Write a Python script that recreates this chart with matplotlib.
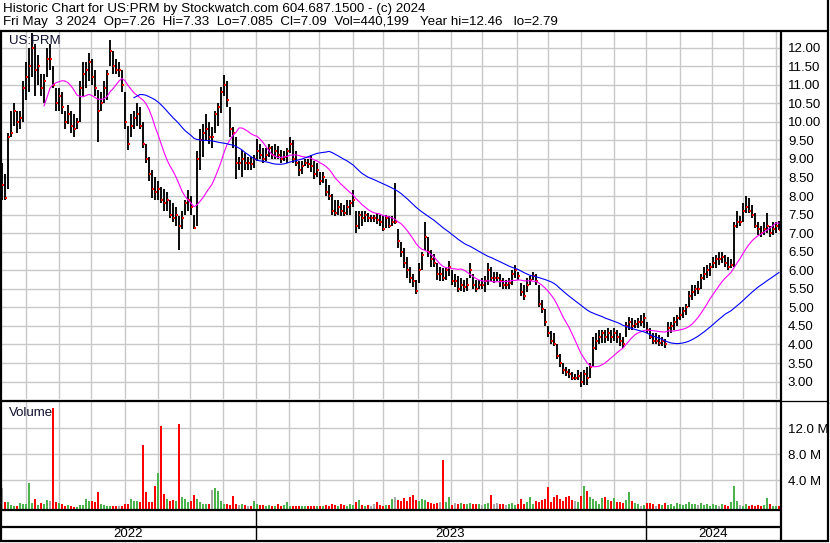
import matplotlib
matplotlib.use("Agg")
import matplotlib.pyplot as plt
import numpy as np
import pandas as pd

plt.rcParams['font.family'] = ['Liberation Sans', 'DejaVu Sans']

# chart covers these trading days, one bar is drawn for every second weekday
first_day = "2022-05-10"
last_day = "2024-05-03"

header = "Historic Chart for US:PRM by Stockwatch.com 604.687.1500 - (c) 2024"
quote = "Fri May  3 2024  Op=7.26  Hi=7.33  Lo=7.085  Cl=7.09  Vol=440,199   Year hi=12.46   lo=2.79"
symbol = "US:PRM"

close = [
    8.3, 7.95, 9.6, 9.7, 10.3, 10.0, 10.1, 10.9, 11.2, 11.5,
    12.0, 11.4, 11.5, 10.9, 11.1, 11.7, 11.7, 11.0, 10.5, 10.7,
    10.4, 10.0, 10.2, 9.9, 9.8, 10.0, 10.9, 11.3, 11.4, 11.6,
    11.2, 10.9, 10.3, 10.5, 10.9, 11.3, 11.9, 11.5, 11.4, 11.4,
    11.0, 10.0, 9.4, 9.9, 10.1, 10.2, 9.9, 9.4, 9.0, 8.6,
    8.2, 8.1, 8.2, 7.9, 7.8, 7.9, 7.5, 7.4, 7.5, 7.2,
    7.4, 7.8, 7.9, 7.7, 7.15, 9.0, 9.5, 9.7, 9.8, 9.6,
    9.6, 10.2, 10.4, 10.8, 11.0, 10.6, 9.8, 9.7, 8.9, 8.9,
    9.0, 8.9, 8.9, 8.85, 9.0, 9.2, 9.1, 9.0, 9.1, 9.3,
    9.1, 9.2, 9.1, 9.0, 9.05, 9.2, 9.4, 9.0, 8.9, 8.7,
    8.8, 8.9, 8.85, 8.8, 8.6, 8.7, 8.4, 8.5, 8.1, 8.0,
    7.6, 7.55, 7.7, 7.6, 7.55, 7.7, 7.8, 7.9, 7.2, 7.5,
    7.4, 7.5, 7.4, 7.4, 7.4, 7.35, 7.3, 7.1, 7.4, 7.2,
    7.3, 7.3, 6.8, 6.5, 6.2, 6.0, 5.8, 5.7, 5.45, 6.0,
    6.4, 6.9, 6.5, 6.3, 6.2, 5.9, 5.9, 5.8, 6.0, 6.1,
    5.7, 5.7, 5.5, 5.6, 5.55, 5.6, 6.0, 5.6, 5.5, 5.6,
    5.6, 5.7, 6.0, 5.8, 5.8, 5.8, 5.7, 5.6, 5.6, 5.65,
    5.9, 6.0, 5.85, 5.4, 5.3, 5.6, 5.75, 5.85, 5.7, 5.1,
    4.95, 4.6, 4.3, 4.1, 4.0, 3.7, 3.5, 3.3, 3.25, 3.2,
    3.1, 3.1, 3.15, 3.0, 3.2, 3.1, 3.4, 3.9, 4.1, 4.2,
    4.3, 4.2, 4.3, 4.2, 4.3, 4.2, 4.1, 4.0, 4.5, 4.6,
    4.5, 4.55, 4.6, 4.6, 4.7, 4.4, 4.2, 4.1, 4.1, 4.05,
    4.1, 4.0, 4.45, 4.5, 4.6, 4.7, 4.8, 4.9, 5.0, 5.3,
    5.4, 5.5, 5.5, 5.8, 5.9, 6.0, 6.1, 6.2, 6.3, 6.3,
    6.35, 6.2, 6.1, 6.15, 7.2, 7.3, 7.3, 7.6, 7.7, 7.6,
    7.5, 7.2, 7.1, 7.0, 7.1, 7.2, 7.0, 7.1, 7.2, 7.09,
]

high = [
    8.9, 8.6, 9.7, 10.3, 10.5, 10.3, 10.3, 11.1, 11.6, 12.0,
    12.4, 12.1, 11.8, 11.3, 11.3, 12.0, 12.1, 11.5, 10.9, 10.9,
    10.8, 10.3, 10.45, 10.3, 10.2, 10.1, 11.1, 11.6, 11.6, 11.85,
    11.7, 11.4, 10.85, 10.8, 11.1, 11.4, 12.2, 11.9, 11.7, 11.6,
    11.4, 10.8, 9.9, 10.2, 10.3, 10.5, 10.4, 10.0, 9.4, 9.05,
    8.7, 8.5, 8.4, 8.25, 8.2, 8.1, 7.9, 7.8, 7.7, 7.45,
    7.6, 7.9, 8.15, 8.0, 7.5, 9.2, 9.8, 9.95, 10.2, 10.0,
    9.85, 10.3, 10.5, 10.95, 11.25, 11.1, 10.4, 9.85, 9.6, 9.05,
    9.25, 9.15, 9.05, 9.05, 9.1, 9.55, 9.4, 9.3, 9.3, 9.4,
    9.35, 9.4, 9.35, 9.25, 9.2, 9.3, 9.6, 9.5, 9.2, 8.95,
    8.95, 9.0, 9.0, 9.1, 8.95, 8.9, 8.65, 8.65, 8.45, 8.3,
    8.05, 7.9, 7.9, 7.8, 7.75, 7.9, 7.9, 8.15, 7.6, 7.6,
    7.6, 7.6, 7.55, 7.5, 7.5, 7.55, 7.5, 7.45, 7.5, 7.45,
    7.45, 8.35, 7.1, 6.75, 6.6, 6.35, 6.1, 5.9, 5.75, 6.2,
    6.5, 7.3, 6.9, 6.55, 6.45, 6.2, 6.1, 6.05, 6.1, 6.25,
    6.0, 5.9, 5.85, 5.8, 5.75, 5.8, 6.2, 5.9, 5.75, 5.75,
    5.8, 5.85, 6.2, 6.1, 5.95, 5.95, 5.9, 5.8, 5.75, 5.8,
    6.0, 6.15, 5.95, 5.65, 5.6, 5.8, 5.85, 5.95, 5.9, 5.6,
    5.2, 4.95, 4.5, 4.35, 4.3, 4.0, 3.75, 3.5, 3.4, 3.35,
    3.25, 3.2, 3.3, 3.25, 3.3, 3.4, 3.5, 4.2, 4.3, 4.4,
    4.4, 4.4, 4.45, 4.4, 4.45, 4.4, 4.3, 4.2, 4.6, 4.75,
    4.7, 4.65, 4.7, 4.8, 4.85, 4.6, 4.45, 4.3, 4.3, 4.25,
    4.2, 4.15, 4.6, 4.6, 4.75, 4.8, 5.0, 5.0, 5.1, 5.45,
    5.6, 5.6, 5.7, 5.9, 6.1, 6.15, 6.2, 6.35, 6.4, 6.5,
    6.5, 6.4, 6.35, 6.3, 7.3, 7.6, 7.45, 7.8, 8.0, 7.95,
    7.75, 7.55, 7.3, 7.2, 7.3, 7.55, 7.2, 7.3, 7.3, 7.33,
]

low = [
    7.9, 7.9, 8.2, 9.6, 9.9, 9.7, 9.8, 10.0, 10.6, 10.8,
    11.2, 10.7, 11.0, 10.7, 10.5, 11.2, 11.4, 10.9, 10.3, 10.3,
    10.2, 9.8, 9.95, 9.7, 9.6, 9.8, 10.0, 10.7, 10.9, 11.1,
    11.0, 10.7, 9.45, 10.3, 10.5, 10.6, 11.5, 11.3, 11.3, 11.2,
    10.8, 9.8, 9.25, 9.6, 9.8, 9.9, 9.8, 9.3, 8.9, 8.4,
    7.95, 7.9, 7.9, 7.8, 7.6, 7.6, 7.4, 7.3, 7.2, 6.55,
    7.1, 7.5, 7.6, 7.5, 7.1, 7.2, 8.7, 9.05, 9.5, 9.4,
    9.3, 9.7, 9.9, 10.25, 10.7, 10.4, 9.6, 9.3, 8.45, 8.7,
    8.5, 8.7, 8.7, 8.7, 8.75, 8.95, 9.0, 8.9, 8.95, 9.05,
    9.0, 9.0, 9.0, 8.9, 8.95, 8.9, 9.15, 8.9, 8.8, 8.55,
    8.6, 8.8, 8.75, 8.65, 8.45, 8.5, 8.3, 8.35, 8.0, 7.9,
    7.5, 7.45, 7.5, 7.45, 7.45, 7.5, 7.5, 7.7, 7.0, 7.1,
    7.2, 7.3, 7.3, 7.3, 7.3, 7.25, 7.2, 7.05, 7.15, 7.15,
    7.2, 7.25, 6.6, 6.35, 6.05, 5.8, 5.65, 5.55, 5.36, 5.65,
    6.0, 6.55, 6.35, 6.1, 6.1, 5.75, 5.7, 5.7, 5.75, 5.85,
    5.6, 5.55, 5.4, 5.45, 5.4, 5.45, 5.8, 5.5, 5.4, 5.5,
    5.5, 5.4, 5.6, 5.7, 5.65, 5.7, 5.55, 5.5, 5.5, 5.5,
    5.6, 5.8, 5.75, 5.3, 5.2, 5.4, 5.6, 5.75, 5.6, 5.0,
    4.85, 4.5, 4.2, 4.0, 3.95, 3.6, 3.4, 3.2, 3.15, 3.1,
    3.05, 3.05, 3.05, 2.85, 2.9, 2.9, 3.1, 3.4, 3.85, 4.0,
    4.05, 4.05, 4.1, 4.05, 4.1, 4.05, 3.95, 3.9, 4.2, 4.4,
    4.4, 4.45, 4.45, 4.5, 4.45, 4.3, 4.15, 4.0, 4.0, 3.95,
    3.95, 3.9, 4.2, 4.3, 4.4, 4.5, 4.65, 4.7, 4.8, 5.0,
    5.2, 5.3, 5.35, 5.5, 5.75, 5.8, 5.85, 6.05, 6.05, 6.15,
    6.2, 6.1, 6.0, 6.05, 6.1, 7.15, 7.2, 7.3, 7.55, 7.55,
    7.4, 7.15, 6.95, 6.9, 6.95, 7.0, 6.9, 6.95, 7.0, 7.08,
]

# volume in millions of shares
volume = [
    3.3, 1.0, 1.0, 0.6, 0.4, 0.4, 0.9, 0.7, 0.8, 4.0,
    0.9, 1.5, 0.6, 0.9, 0.8, 1.4, 1.2, 15.5, 1.0, 0.9,
    0.8, 0.5, 0.6, 0.4, 0.3, 0.3, 0.6, 0.6, 1.5, 1.2,
    1.3, 1.0, 2.6, 0.8, 0.6, 0.5, 0.5, 0.4, 0.5, 0.4,
    0.5, 0.8, 0.7, 1.6, 1.3, 1.2, 1.0, 9.8, 2.6, 1.0,
    1.1, 3.6, 5.6, 12.7, 2.3, 1.5, 1.2, 1.4, 1.3, 13.0,
    1.8, 1.5, 1.0, 1.2, 2.1, 1.5, 1.0, 0.8, 0.8, 0.8,
    2.9, 3.3, 2.8, 1.2, 0.8, 0.7, 0.6, 2.0, 0.8, 0.6,
    0.7, 0.6, 0.5, 0.5, 1.2, 0.8, 0.6, 0.6, 0.5, 0.6,
    0.5, 0.5, 0.7, 0.5, 0.6, 1.1, 0.5, 0.5, 0.4, 0.4,
    0.5, 0.4, 0.5, 0.4, 0.5, 0.5, 0.4, 0.5, 0.6, 0.5,
    0.7, 0.6, 0.5, 0.8, 0.6, 0.5, 0.8, 0.6, 1.0, 1.4,
    0.6, 0.5, 0.6, 0.5, 0.7, 1.0, 0.6, 0.5, 0.6, 0.6,
    1.6, 1.8, 1.4, 1.2, 1.7, 1.3, 1.8, 2.2, 1.4, 1.2,
    1.6, 1.4, 1.0, 0.9, 0.7, 0.9, 1.0, 7.6, 1.0, 1.9,
    0.6, 0.9, 0.7, 0.9, 0.8, 0.7, 0.9, 0.8, 0.7, 0.8,
    0.6, 0.8, 0.9, 2.2, 0.8, 0.9, 0.7, 0.8, 0.6, 0.7,
    0.9, 0.6, 0.8, 1.6, 0.8, 1.0, 1.8, 0.8, 1.3, 1.1,
    1.4, 1.6, 3.4, 1.0, 1.8, 2.1, 1.5, 1.2, 1.8, 2.0,
    1.4, 1.2, 1.0, 2.0, 3.6, 2.8, 1.9, 1.5, 1.2, 0.8,
    1.7, 1.9, 1.4, 1.2, 1.7, 1.1, 1.0, 0.9, 1.4, 2.6,
    1.2, 0.9, 0.8, 0.5, 0.6, 0.9, 0.9, 0.7, 0.5, 0.8,
    0.6, 0.9, 0.6, 0.7, 0.5, 0.9, 0.8, 0.6, 0.8, 1.0,
    0.7, 0.8, 0.6, 0.9, 0.6, 0.7, 0.5, 0.7, 0.6, 0.5,
    0.8, 0.6, 0.5, 1.0, 3.5, 1.2, 0.6, 0.5, 0.7, 0.5,
    0.6, 0.5, 0.6, 0.4, 0.6, 1.7, 0.7, 0.5, 0.4, 0.4,
]

price_ticks = np.arange(3.0, 12.01, 0.5)
volume_ticks = [4.0, 8.0, 12.0]

# moving average lengths in trading days
short_ma = 30
long_ma = 90

W, H = 830, 543


def box(x0, y0, x1, y1):
    # pixel rectangle (top-left origin) -> figure fraction
    return [x0 / W, 1 - y1 / H, (x1 - x0) / W, (y1 - y0) / H]


days = pd.bdate_range(first_day, last_day)
x = np.arange(len(days))[::2][:len(close)]
step = 2

c = pd.Series(close)
ma_short = c.rolling(short_ma // step).mean()
ma_long = c.rolling(long_ma // step).mean()

chg = np.diff(np.r_[close[0], close])
vol_colors = np.where(chg > 0, '#4cb34c', np.where(chg < 0, '#ff0000', '#a8a8a8'))

month_starts = np.flatnonzero(np.diff(days.month) != 0) + 1
year_starts = np.flatnonzero(np.diff(days.year) != 0) + 1

fig = plt.figure(figsize=(W / 100, H / 100), dpi=100)
fig.patch.set_facecolor('white')

ax_p = fig.add_axes(box(1, 32, 781, 399))
ax_v = fig.add_axes(box(1, 402, 781, 509), sharex=ax_p)
ax_d = fig.add_axes(box(1, 511, 781, 541), sharex=ax_p)

xlo, xhi = -0.67, len(days) - 1 + 1.33
ax_p.set_xlim(xlo, xhi)

grid_kw = dict(color='#c8c8c8', lw=1.0)

# price panel
ax_p.vlines(x, low, high, colors='black', lw=1.35, zorder=3)
ax_p.hlines(close, x + 0.3, x + 1.5, colors='red', lw=1.5, zorder=4)
ax_p.plot(x, ma_short, color='#ff00ff', lw=0.8, zorder=5)
ax_p.plot(x, ma_long, color='#0000ff', lw=0.8, zorder=5)
ax_p.set_ylim(2.53, 12.42)
ax_p.set_yticks(price_ticks, labels=[f"{v:.2f}" for v in price_ticks])
ax_p.set_xticks(month_starts)
ax_p.grid(True, **grid_kw)
ax_p.yaxis.tick_right()
ax_p.tick_params(axis='y', length=0, pad=5, labelsize=9.5)
ax_p.tick_params(axis='x', length=0, labelbottom=False)

# volume panel
vmin = -0.4
ax_v.bar(x, volume, width=1.7, bottom=vmin, color=vol_colors, lw=0, zorder=3)
ax_v.set_ylim(vmin, 16.05)
ax_v.set_yticks(volume_ticks, labels=[f"{v:.1f} M" for v in volume_ticks])
ax_v.grid(True, **grid_kw)
ax_v.yaxis.tick_right()
ax_v.tick_params(axis='y', length=0, pad=5, labelsize=9.5)
ax_v.tick_params(axis='x', length=0, labelbottom=False)

# date band
ax_d.set_ylim(0, 1)
ax_d.set_yticks([])
ax_d.tick_params(axis='x', length=0, labelbottom=False)
ax_d.axhline(0.47, color='black', lw=1.6)
for ys in year_starts:
    ax_d.axvline(ys, color='black', lw=1.0)
bounds = np.r_[xlo, year_starts, xhi]
for i, yr in enumerate(pd.unique(days.year)):
    ax_d.text((bounds[i] + bounds[i + 1]) / 2, 0.22, str(yr),
              ha='center', va='center', fontsize=9.5)

for ax in (ax_p, ax_v, ax_d):
    for s in ax.spines.values():
        s.set_visible(False)

# outer frame, drawn in pixel coordinates
frame = fig.add_axes([0, 0, 1, 1])
frame.set_xlim(0, W)
frame.set_ylim(H, 0)
frame.axis('off')
line_kw = dict(color='black', solid_capstyle='butt')
frame.plot([0, 829], [31, 31], lw=1.6, **line_kw)
frame.plot([1, 1], [30, 542], lw=1.6, **line_kw)
frame.plot([781, 781], [30, 542], lw=1.6, **line_kw)
frame.plot([828, 828], [0, 542], lw=1.6, **line_kw)
frame.plot([0, 781], [399.5, 399.5], lw=0.9, **line_kw)
frame.plot([0, 828], [401.3, 401.3], lw=0.9, **line_kw)
frame.plot([0, 781], [510, 510], lw=1.6, **line_kw)
frame.plot([0, 829], [541, 541], lw=1.6, **line_kw)

frame.text(3, 9, header, fontsize=9.6, va='center')
frame.text(3, 22.5, quote, fontsize=9.6, va='center')
frame.text(9, 41.5, symbol, fontsize=9.5, va='center', color='#101030')
frame.text(9, 413, "Volume", fontsize=9.5, va='center', color='#101030')

fig.savefig("out.png", dpi=100, facecolor='white')
